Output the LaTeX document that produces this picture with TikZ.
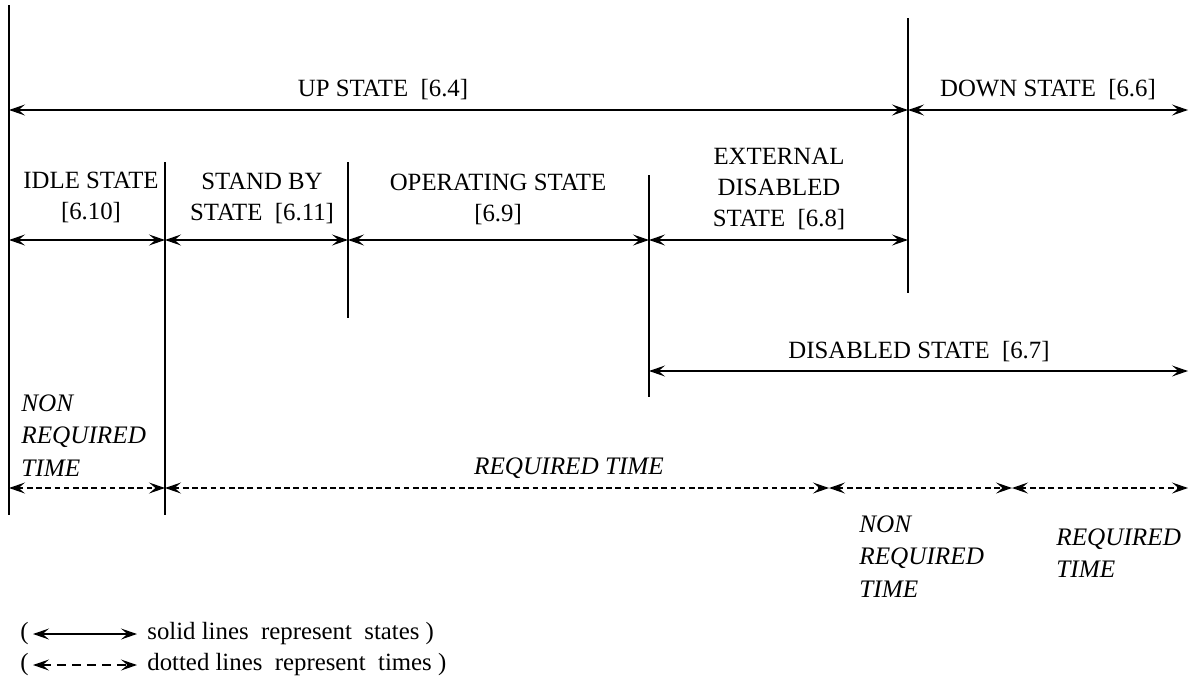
\documentclass[tikz,border=0pt]{standalone}
\usepackage{fontspec}
\setmainfont{Liberation Serif}
\usetikzlibrary{arrows.meta}
\begin{document}
\begin{tikzpicture}[x=0.5pt,y=-0.5pt,
  tip/.tip={Stealth[length=8pt,width=5.5pt,inset=3.2pt]},
  st/.style={line width=0.7pt, tip-tip},
  tm/.style={st, dash pattern=on 2.8pt off 1.8pt},
  tmleg/.style={st, dash pattern=on 4.5pt off 3pt},
  bar/.style={line width=0.7pt},
  lbl/.style={font=\fontsize{12.4}{15.5}\selectfont, align=center, inner sep=0pt},
  ilbl/.style={font=\fontsize{12.6}{16.3}\selectfont\itshape, align=left, inner sep=0pt}]
\useasboundingbox (0,0) rectangle (1192,686);
% vertical bars
\coordinate (a0) at (9,5);    \coordinate (z0) at (9,515);
\coordinate (a1) at (165,162); \coordinate (z1) at (165,515);
\coordinate (a2) at (348,162); \coordinate (z2) at (348,318);
\coordinate (a3) at (649,175); \coordinate (z3) at (649,397);
\coordinate (a4) at (908,18);  \coordinate (z4) at (908,293);
\draw[bar] (a0) -- (z0);
\draw[bar] (a1) -- (z1);
\draw[bar] (a2) -- (z2);
\draw[bar] (a3) -- (z3);
\draw[bar] (a4) -- (z4);
% up / down
\coordinate (u0) at (9,110); \coordinate (u1) at (908,110); \coordinate (u2) at (1188,110);
\draw[st] (u0) -- (u1);
\draw[st] (u1) -- (u2);
\node[lbl] (up) at (383,90) {UP STATE~ [6.4]};
\node[lbl] (down) at (1048,90) {DOWN STATE~ [6.6]};
% sub states
\coordinate (s0) at (9,240); \coordinate (s1) at (165,240); \coordinate (s2) at (348,240);
\coordinate (s3) at (649,240); \coordinate (s4) at (908,240);
\draw[st] (s0) -- (s1);
\draw[st] (s1) -- (s2);
\draw[st] (s2) -- (s3);
\draw[st] (s3) -- (s4);
\node[lbl] (idle) at (91,197) {IDLE STATE\\{}[6.10]};
\node[lbl] (stand) at (262,198) {STAND BY\\STATE~ [6.11]};
\node[lbl] (oper) at (498,199) {OPERATING STATE\\{}[6.9]};
\node[lbl] (ext) at (779,189) {EXTERNAL\\DISABLED\\STATE~ [6.8]};
% disabled
\coordinate (d0) at (649,371); \coordinate (d1) at (1188,371);
\draw[st] (d0) -- (d1);
\node[lbl] (dis) at (919,352) {DISABLED STATE~ [6.7]};
% times
\coordinate (r0) at (9,488); \coordinate (r1) at (165,488); \coordinate (r2) at (829,488);
\coordinate (r3) at (1012,488); \coordinate (r4) at (1188,488);
\draw[tm] (r0) -- (r1);
\draw[tm] (r1) -- (r2);
\draw[tm] (r2) -- (r3);
\draw[tm] (r3) -- (r4);
\node[ilbl, anchor=north west] (nrt1) at (21,394) {NON\\REQUIRED\\TIME};
\node[ilbl, align=center] (rt1) at (569,468) {REQUIRED TIME};
\node[ilbl, anchor=north west] (nrt2) at (859,515) {NON\\REQUIRED\\TIME};
\node[ilbl, anchor=north west] (rt2) at (1056,528) {REQUIRED\\TIME};
% legend
\node[lbl, anchor=west] (p1) at (20,634) {(};
\coordinate (l1a) at (33,634); \coordinate (l1b) at (137,634);
\draw[st] (l1a) -- (l1b);
\node[lbl, anchor=west] (leg1) at (147,634) {solid lines~ represent~ states )};
\node[lbl, anchor=west] (p2) at (20,665) {(};
\coordinate (l2a) at (33,665); \coordinate (l2b) at (137,665);
\draw[tmleg] (l2a) -- (l2b);
\node[lbl, anchor=west] (leg2) at (147,665) {dotted lines~ represent~ times )};
\end{tikzpicture}
\end{document}
